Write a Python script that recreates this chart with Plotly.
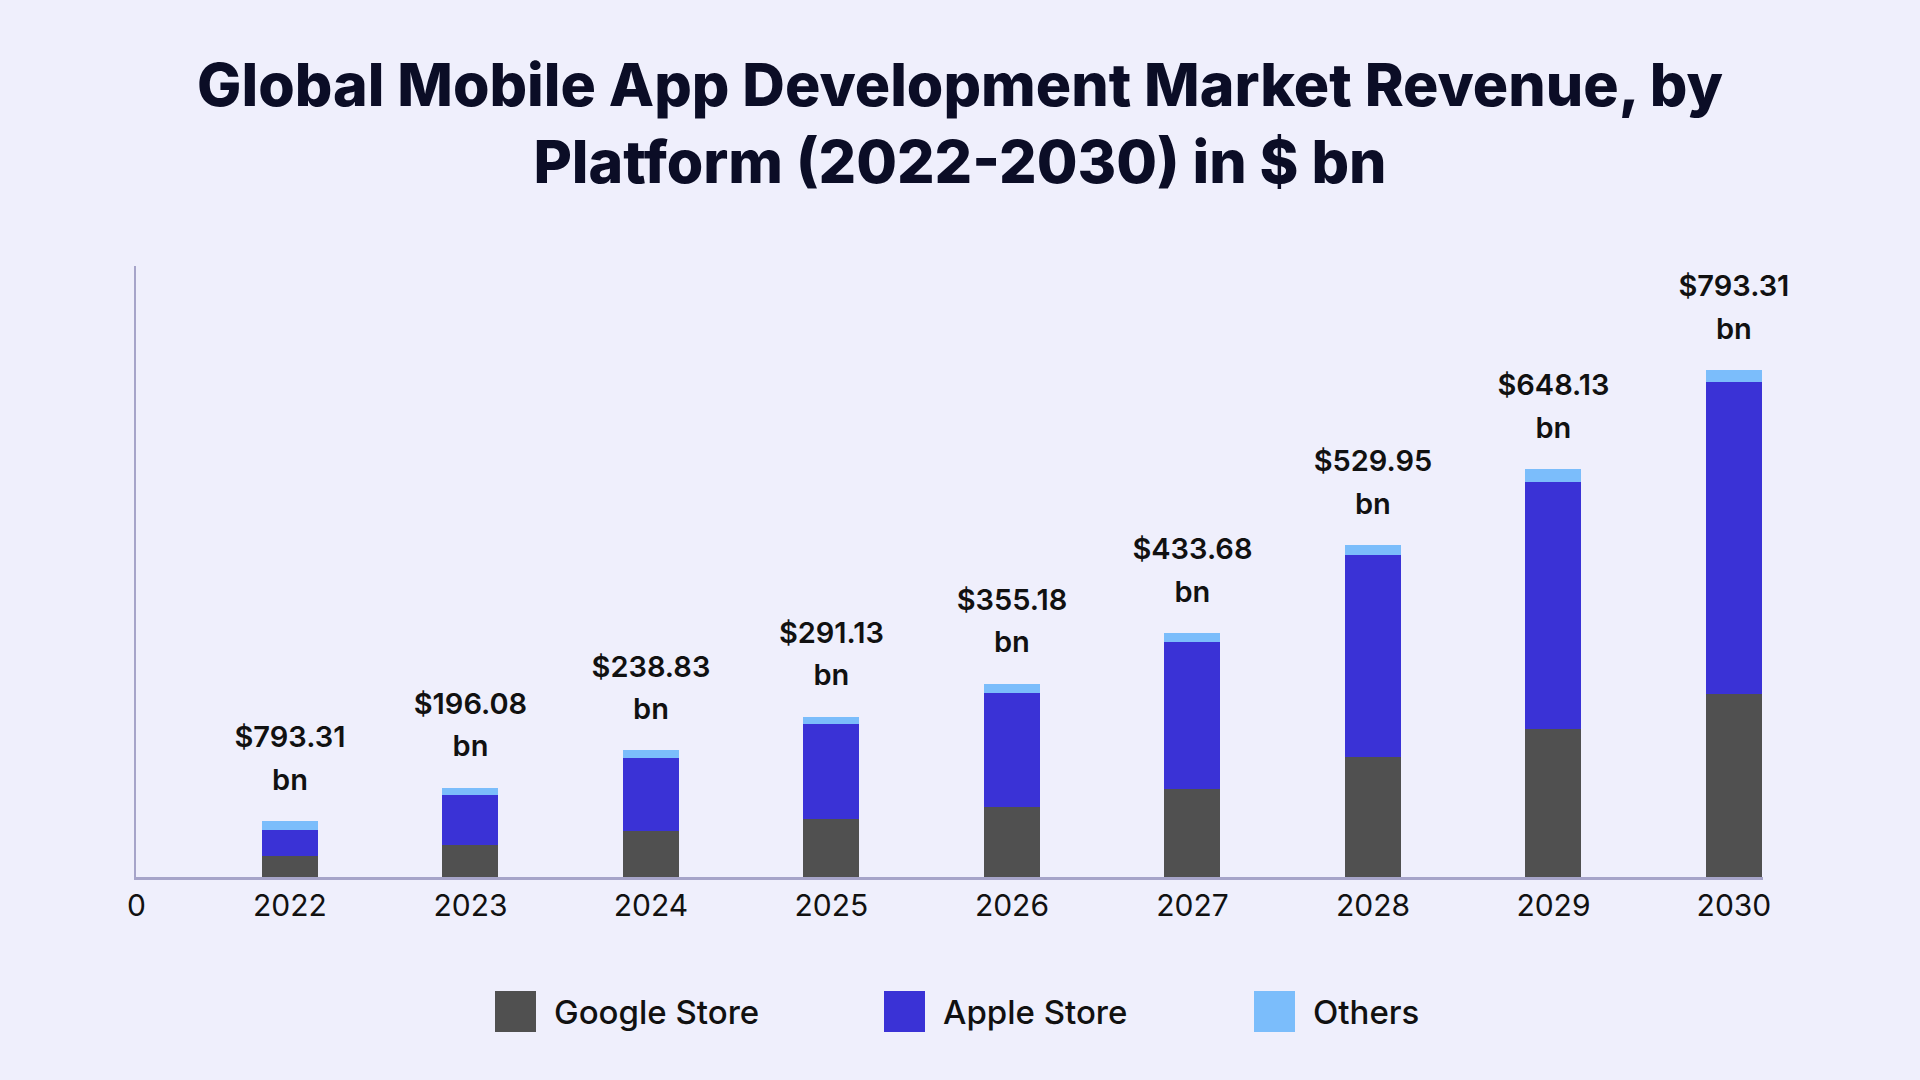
import numpy as np
import plotly.graph_objects as go

# data ($ bn)
years = ['2022', '2023', '2024', '2025', '2026', '2027', '2028', '2029', '2030']
google_store = [32.6, 50.0, 72.0, 90.9, 109.2, 138.2, 188.0, 231.2, 286.8]
apple_store = [41.0, 78.8, 113.5, 148.1, 179.2, 229.6, 315.2, 386.6, 488.1]
others = [14.2, 11.0, 12.6, 12.1, 14.2, 13.7, 15.8, 20.5, 18.4]
# the value labels as printed on the chart (first one is as in the source)
total_labels = ['$793.31', '$196.08', '$238.83', '$291.13', '$355.18',
                '$433.68', '$529.95', '$648.13', '$793.31']

series_names = ['Google Store', 'Apple Store', 'Others']
series_colors = ['#505050', '#3a32d6', '#7bbdfb']

BG = '#efeffc'
AXIS_COLOR = '#a6a4c9'
FONT = 'Inter'

# plot area in pixels (1920x1080 page)
W, H = 1920, 1080
M_L, M_R, M_T, M_B = 136, 157, 266, 203


def px_to_paper(px, py):
    """convert page pixel position to paper coords of the plot area"""
    pw = W - M_L - M_R
    ph = H - M_T - M_B
    return (px - M_L) / pw, (H - M_B - py) / ph


fig = go.Figure()

# stacked bars
for name, vals, col in zip(series_names, [google_store, apple_store, others], series_colors):
    fig.add_trace(go.Bar(x=years, y=vals, name=name, marker_color=col,
                         marker_line_width=0, width=0.31, showlegend=False))

# value labels above each bar, two lines done as two text traces so the
# line gap can be set (the invisible marker size pushes the text up)
totals = np.array(google_store) + np.array(apple_store) + np.array(others)
label_font = dict(family=FONT, size=29, color='#111111', weight=600)
for txt, msize in [(['bn'] * len(years), 37), (total_labels, 105)]:
    fig.add_trace(go.Scatter(x=years, y=totals, mode='markers+text', text=txt,
                             textposition='top center',
                             marker=dict(size=msize, opacity=0),
                             textfont=label_font,
                             hoverinfo='skip', showlegend=False, cliponaxis=False))

# the lone "0" at the origin
fig.add_annotation(xref='paper', yref='paper', x=0, y=0, text='0', showarrow=False,
                   xanchor='center', yanchor='middle', yshift=-28,
                   font=dict(family=FONT, size=30, color='#111111'))

# custom legend with big squares
legend_x = [495, 884, 1254]
for name, col, lx in zip(series_names, series_colors, legend_x):
    x0, y0 = px_to_paper(lx, 1032)
    x1, y1 = px_to_paper(lx + 41, 991)
    fig.add_shape(type='rect', xref='paper', yref='paper', x0=x0, y0=y0, x1=x1, y1=y1,
                  fillcolor=col, line_width=0)
    tx, ty = px_to_paper(lx + 57, 1012)
    fig.add_annotation(xref='paper', yref='paper', x=tx, y=ty, text=name, showarrow=False,
                       xanchor='left', yanchor='middle',
                       font=dict(family=FONT, size=33, color='#111111', weight=500))

fig.update_layout(
    width=W, height=H,
    barmode='stack',
    paper_bgcolor=BG, plot_bgcolor=BG,
    margin=dict(l=M_L, r=M_R, t=M_T, b=M_B),
    title=dict(text='Global Mobile App Development Market Revenue, by<br>Platform (2022-2030) in $ bn',
               x=0.5, xanchor='center', y=0.9016, yanchor='middle',
               font=dict(family=FONT, size=59, color='#0b0d26', weight=800)),
    xaxis=dict(type='category', range=[-0.853, 8.161], showgrid=False, zeroline=False,
               showline=True, linecolor=AXIS_COLOR, linewidth=3, ticks='',
               tickfont=dict(family=FONT, size=30, color='#111111')),
    yaxis=dict(range=[0, 956], showgrid=False, zeroline=False,
               showline=True, linecolor=AXIS_COLOR, linewidth=2,
               showticklabels=False, ticks=''),
)

fig.write_html("out.html", config={'displayModeBar': False},
               post_script="document.body.style.margin='0';")
